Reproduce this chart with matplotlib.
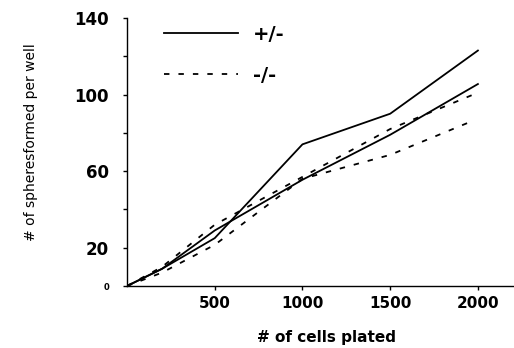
import numpy as np
import matplotlib.pyplot as plt

# cells plated vs spheres formed
x = [0, 200, 500, 1000, 1500, 2000]
het_a = [0, 9, 25, 74, 90, 123]
het_b = [0, 9, 29, 55.5, 79, 105.5]
ko_x = [0, 200, 500, 1000, 1500, 2000]
ko_a = [0, 10, 32, 57, 82, 101]
ko_bx = [0, 200, 500, 1000, 1500, 1950]
ko_b = [0, 7, 21.5, 56, 68.5, 85.5]

yticks = [0, 20, 40, 60, 80, 100, 120, 140]
ylabels = ['0', '20', '', '60', '', '100', '', '140']
xticks = [500, 1000, 1500, 2000]

fig = plt.figure(figsize=(5.14, 3.48), dpi=100)
ax = fig.add_axes([127/514, 62/348, 386/514, 268/348])

dash = (0, (3, 5))
ax.plot(x, het_a, color='black', lw=1.3, label='+/-')
ax.plot(x, het_b, color='black', lw=1.3)
ax.plot(ko_x, ko_a, color='black', lw=1.3, linestyle=dash, label='-/-')
ax.plot(ko_bx, ko_b, color='black', lw=1.3, linestyle=dash)

ax.set_xlim(0, 2200)
ax.set_ylim(0, 140)
ax.spines['top'].set_visible(False)
ax.spines['right'].set_visible(False)
ax.spines['left'].set_linewidth(1.0)
ax.spines['bottom'].set_linewidth(1.0)

ax.set_yticks(yticks)
ax.set_yticklabels(ylabels, fontsize=12, fontweight='bold', family='DejaVu Sans')
ax.get_yticklabels()[0].set_fontsize(6)
ax.set_xticks(xticks)
ax.set_xticklabels([str(t) for t in xticks], fontsize=11, fontweight='bold', family='DejaVu Sans')
ax.tick_params(axis='y', length=3, width=1, pad=10)
ax.tick_params(axis='x', length=3, width=1, pad=4)

ax.set_xlabel('# of cells plated', fontsize=11, fontweight='bold', labelpad=10)
ax.xaxis.set_label_coords(0.518, -0.165)
ax.set_ylabel('# of spheresformed per well', fontsize=10)
ax.yaxis.set_label_coords(-0.231, 0.537)

leg = ax.legend(loc='upper left', bbox_to_anchor=(0.05, 1.04), frameon=False,
                handlelength=3.8, handletextpad=0.8, labelspacing=1.15,
                prop={'size': 14, 'weight': 'bold'})

fig.savefig('out.png', dpi=100)
